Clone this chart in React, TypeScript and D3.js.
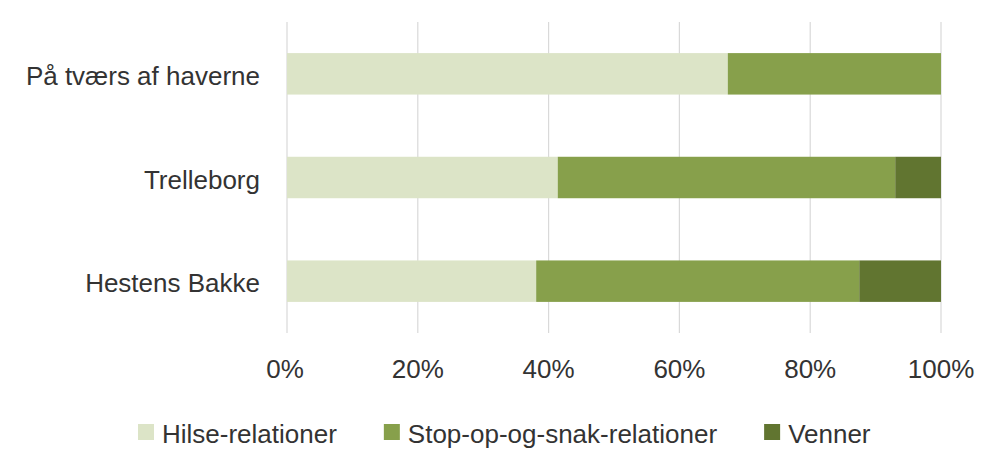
import React, { useEffect, useRef } from "react";
import * as d3 from "d3";

const categories = ["På tværs af haverne", "Trelleborg", "Hestens Bakke"];
const seriesNames = ["Hilse-relationer", "Stop-op-og-snak-relationer", "Venner"];
const hilse = [0.674, 0.414, 0.381];
const stopOp = [0.326, 0.516, 0.494];
const venner = [0.0, 0.07, 0.125];
const tickValues = [0, 0.2, 0.4, 0.6, 0.8, 1.0];
const colors = ["#dce4c7", "#87a04b", "#617530"];

const W = 981;
const H = 449;
const FONT = "'Liberation Sans', Arial, sans-serif";

export default function App() {
  const ref = useRef<SVGSVGElement>(null);

  useEffect(() => {
    const svg = d3.select(ref.current);
    svg.selectAll("*").remove();

    const x = d3.scaleLinear().domain([0, 1]).range([287, 941]);
    const y = d3.scaleBand<string>().domain(categories).range([22, 333]).paddingInner(0.6).paddingOuter(0.3);

    const rows = categories.map((c, i) => ({ cat: c, v: [hilse[i], stopOp[i], venner[i]] }));

    // gridlines
    svg.append("g")
      .selectAll("line")
      .data(tickValues)
      .join("line")
      .attr("x1", (d) => x(d))
      .attr("x2", (d) => x(d))
      .attr("y1", 22)
      .attr("y2", 333)
      .attr("stroke", "#d9d9d9")
      .attr("stroke-width", 1.2);

    // bars
    const g = svg.append("g");
    rows.forEach((r) => {
      let acc = 0;
      r.v.forEach((val, k) => {
        if (val > 0) {
          g.append("rect")
            .attr("x", x(acc))
            .attr("y", y(r.cat)!)
            .attr("width", x(acc + val) - x(acc))
            .attr("height", y.bandwidth())
            .attr("fill", colors[k]);
        }
        acc += val;
      });
    });

    // category labels
    svg.append("g")
      .selectAll("text")
      .data(categories)
      .join("text")
      .attr("x", 260)
      .attr("y", (d) => y(d)! + y.bandwidth() / 2 + 11)
      .attr("text-anchor", "end")
      .attr("font-family", FONT)
      .attr("font-size", 26)
      .attr("fill", "#333")
      .text((d) => d);

    // tick labels
    svg.append("g")
      .selectAll("text")
      .data(tickValues)
      .join("text")
      .attr("x", (d) => x(d) - (d === 0 ? 2 : 0))
      .attr("y", 378)
      .attr("text-anchor", "middle")
      .attr("font-family", FONT)
      .attr("font-size", 26)
      .attr("fill", "#333")
      .text((d) => d3.format(".0%")(d));

    // legend
    const lg = svg.append("g");
    let cx = 138;
    seriesNames.forEach((name, k) => {
      lg.append("rect").attr("x", cx).attr("y", 424).attr("width", 16).attr("height", 16).attr("fill", colors[k]);
      const t = lg.append("text")
        .attr("x", cx + 24)
        .attr("y", 443)
        .attr("font-family", FONT)
        .attr("font-size", 26)
        .attr("fill", "#333")
        .text(name);
      const len = (t.node() as SVGTextElement).getComputedTextLength();
      cx = cx + 24 + len + 47;
    });
  }, []);

  return (
    <svg ref={ref} width={W} height={H} style={{ position: "absolute", left: 0, top: 0, background: "#fff" }} />
  );
}
